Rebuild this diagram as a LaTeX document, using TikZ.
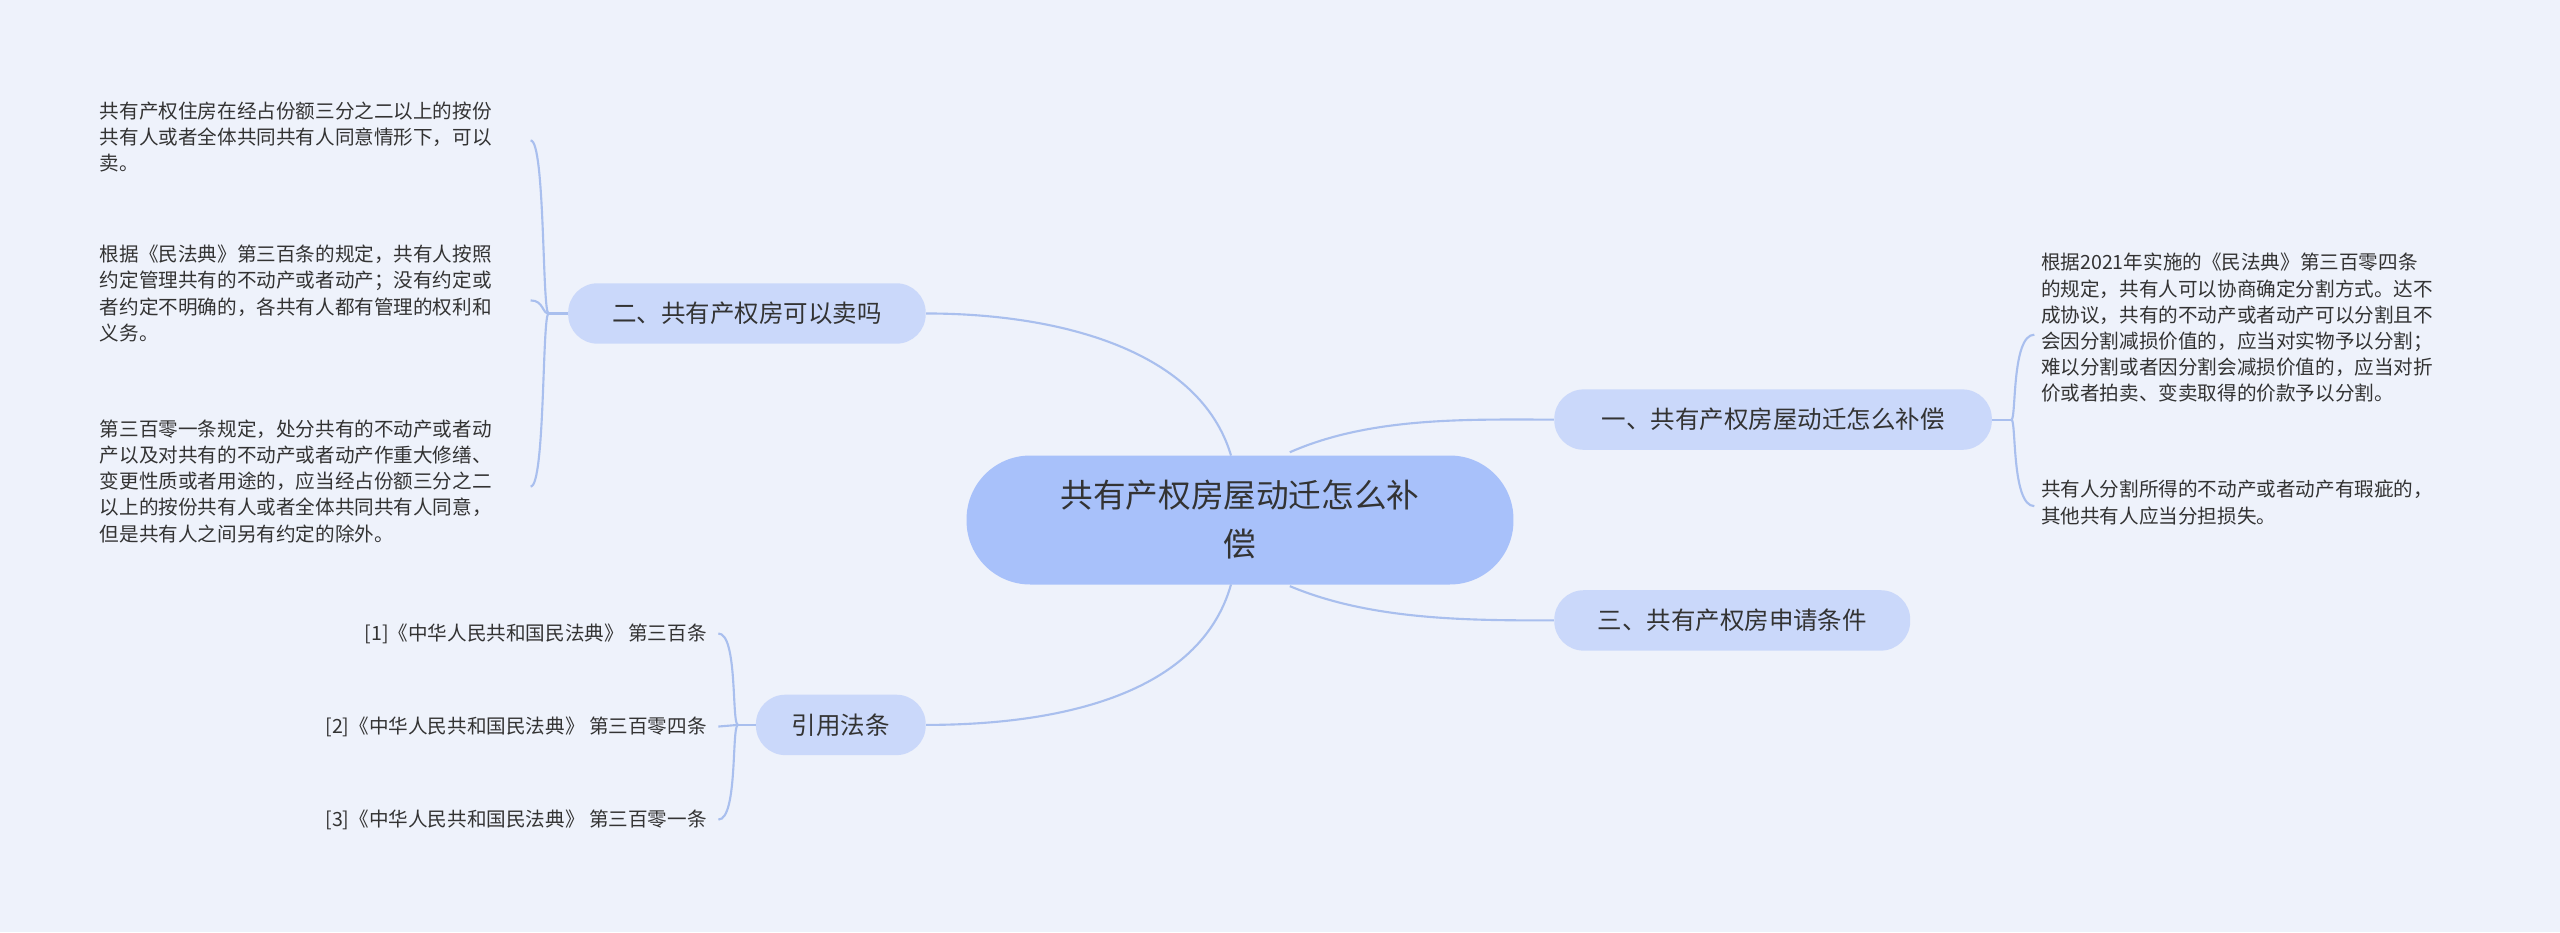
\documentclass[tikz,border=0pt]{standalone}
\usepackage{fontspec}
\setmainfont{Noto Sans CJK SC}
\definecolor{bg}{HTML}{EEF2FB}
\definecolor{cfill}{HTML}{A8C1FA}
\definecolor{nfill}{HTML}{CAD8FA}
\definecolor{ln}{HTML}{A9BFEE}
\definecolor{tx}{HTML}{333333}
\begin{document}
\begin{tikzpicture}[x=1pt,y=-1pt,
  root/.style={fill=cfill,rounded corners=39pt,minimum width=335pt,minimum height=79pt,align=center,text=tx,font=\fontsize{20}{30}\selectfont},
  sub/.style={fill=nfill,rounded corners=18pt,minimum height=37pt,inner xsep=20pt,text=tx,font=\fontsize{15}{18}\selectfont},
  leaf/.style={align=left,text=tx,inner sep=0pt,font=\fontsize{12}{16}\selectfont},
  leafr/.style={align=right,text=tx,inner sep=0pt,font=\fontsize{12}{16}\selectfont},
  con/.style={draw=ln,line width=1.3pt}]
\fill[bg] (0,0) rectangle (1568,571);
\useasboundingbox (0,0) rectangle (1568,571);
\node[root] (c) at (759.5,318.5) {共有产权房屋动迁怎么补\\偿};
\node[sub,minimum width=268pt] (n1) at (1086,257) {一、共有产权房屋动迁怎么补偿};
\node[sub,minimum width=218pt] (n3) at (1061,380) {三、共有产权房申请条件};
\node[sub,minimum width=219pt] (n2) at (457.5,192) {二、共有产权房可以卖吗};
\node[sub,minimum width=104pt] (n4) at (515,444) {引用法条};
% center connectors
\draw[con] (754,279) .. controls (735,215) and (650,192) .. (n2.east);
\draw[con] (790,277) .. controls (840,255) and (900,257) .. (n1.west);
\draw[con] (790,359) .. controls (840,380) and (900,380) .. (n3.west);
\draw[con] (754,358) .. controls (735,425) and (650,444) .. (n4.east);
% leaves of n2
\node[leaf,anchor=north west] (l21) at (61,62) {共有产权住房在经占份额三分之二以上的按份\\共有人或者全体共同共有人同意情形下，可以\\卖。};
\node[leaf,anchor=north west] (l22) at (61,150) {根据《民法典》第三百条的规定，共有人按照\\约定管理共有的不动产或者动产；没有约定或\\者约定不明确的，各共有人都有管理的权利和\\义务。};
\node[leaf,anchor=north west] (l23) at (61,257) {第三百零一条规定，处分共有的不动产或者动\\产以及对共有的不动产或者动产作重大修缮、\\变更性质或者用途的，应当经占份额三分之二\\以上的按份共有人或者全体共同共有人同意，\\但是共有人之间另有约定的除外。};
\coordinate (b2) at (336,192);
\coordinate (e21) at (325,86);
\coordinate (e22) at (325,184);
\coordinate (e23) at (325,298);
\draw[con] (n2.west) -- (b2);
\draw[con] (b2) .. controls (332,192) and (334,86) .. (e21);
\draw[con] (b2) .. controls (332,192) and (333,184) .. (e22);
\draw[con] (b2) .. controls (332,192) and (334,298) .. (e23);
% leaves of n1
\node[leaf,anchor=north west] (l11) at (1250,155) {根据2021年实施的《民法典》第三百零四条\\的规定，共有人可以协商确定分割方式。达不\\成协议，共有的不动产或者动产可以分割且不\\会因分割减损价值的，应当对实物予以分割；\\难以分割或者因分割会减损价值的，应当对折\\价或者拍卖、变卖取得的价款予以分割。};
\node[leaf,anchor=north west] (l12) at (1250,294) {共有人分割所得的不动产或者动产有瑕疵的，\\其他共有人应当分担损失。};
\coordinate (b1) at (1232,257);
\coordinate (e11) at (1246,205);
\coordinate (e12) at (1246,310);
\draw[con] (n1.east) -- (b1);
\draw[con] (b1) .. controls (1235,257) and (1232,205) .. (e11);
\draw[con] (b1) .. controls (1235,257) and (1232,310) .. (e12);
% leaves of n4
\node[leafr,anchor=east] (l41) at (433,388) {[1]《中华人民共和国民法典》 第三百条};
\node[leafr,anchor=east] (l42) at (433,445) {[2]《中华人民共和国民法典》 第三百零四条};
\node[leafr,anchor=east] (l43) at (433,502) {[3]《中华人民共和国民法典》 第三百零一条};
\coordinate (b4) at (452,444);
\coordinate (e41) at (440,388);
\coordinate (e42) at (440,445);
\coordinate (e43) at (440,502);
\draw[con] (n4.west) -- (b4);
\draw[con] (b4) .. controls (448,444) and (452,388) .. (e41);
\draw[con] (b4) -- (e42);
\draw[con] (b4) .. controls (448,444) and (452,502) .. (e43);
\end{tikzpicture}
\end{document}
